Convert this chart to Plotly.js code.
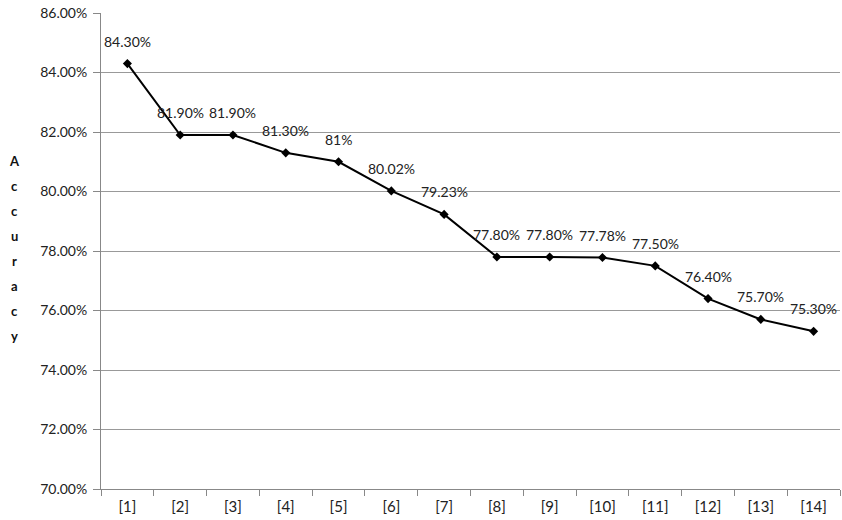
<!DOCTYPE html>
<html>
<head>
<meta charset="utf-8">
<script src="https://cdn.plot.ly/plotly-3.0.1.min.js"></script>
<style>html,body{margin:0;padding:0;background:#fff;}#chart{width:842px;height:520px;}</style>
</head>
<body>
<div id="chart"></div>
<script>
var categories = ["[1]","[2]","[3]","[4]","[5]","[6]","[7]","[8]","[9]","[10]","[11]","[12]","[13]","[14]"];
var accuracy = [84.30, 81.90, 81.90, 81.30, 81.00, 80.02, 79.23, 77.80, 77.80, 77.78, 77.50, 76.40, 75.70, 75.30];
var valueLabels = ["84.30%","81.90%","81.90%","81.30%","81%","80.02%","79.23%","77.80%","77.80%","77.78%","77.50%","76.40%","75.70%","75.30%"];
var yTicks = [70, 72, 74, 76, 78, 80, 82, 84, 86];
var yTickLabels = ["70.00%","72.00%","74.00%","76.00%","78.00%","80.00%","82.00%","84.00%","86.00%"];
var axisTitle = "Accuracy";

var fontFam = "Lato, 'Open Sans', sans-serif";

var trace = {
  x: categories,
  y: accuracy,
  type: 'scatter',
  mode: 'lines+markers',
  line: {color: '#000000', width: 2},
  marker: {symbol: 'diamond', size: 7, color: '#000000'},
  hoverinfo: 'none'
};

var annotations = categories.map(function(c, i) {
  return {x: c, y: accuracy[i], xref: 'x', yref: 'y', text: valueLabels[i],
    showarrow: false, yanchor: 'bottom', xanchor: 'center', yshift: 12,
    font: {family: fontFam, size: 14, color: '#222'}};
});
var letters = axisTitle.split('');
var H = 520, W = 842, mT = 13, mB = 31, mL = 101, mR = 2;
letters.forEach(function(ch, i) {
  var px = 14, py = 161 + i * 25;
  annotations.push({x: (px - mL) / (W - mL - mR), y: 1 - (py - mT) / (H - mT - mB),
    xref: 'paper', yref: 'paper', text: '<b>' + ch + '</b>',
    showarrow: false, xanchor: 'center', yanchor: 'middle',
    font: {family: fontFam, size: 13, color: '#111'}});
});

var layout = {
  width: W, height: H,
  margin: {l: mL, r: mR, t: mT, b: mB},
  paper_bgcolor: '#ffffff', plot_bgcolor: '#ffffff',
  showlegend: false,
  font: {family: fontFam, size: 14, color: '#222'},
  xaxis: {
    type: 'category',
    tickson: 'boundaries',
    ticks: 'outside', ticklen: 6, tickcolor: '#888',
    showline: true, linecolor: '#888', linewidth: 1,
    showgrid: false, zeroline: false,
    range: [-0.5, 13.5],
    ticklabelstandoff: 4,
    tickfont: {family: fontFam, size: 15, color: '#222'},
    automargin: false
  },
  yaxis: {
    range: [70, 86],
    tickvals: yTicks, ticktext: yTickLabels,
    ticks: 'outside', ticklen: 7, tickcolor: '#888',
    showline: true, linecolor: '#888', linewidth: 1,
    showgrid: true, gridcolor: '#999999', gridwidth: 1,
    zeroline: false,
    ticklabelstandoff: 3,
    tickfont: {family: fontFam, size: 14, color: '#222'},
    automargin: false
  },
  annotations: annotations
};

Plotly.newPlot('chart', [trace], layout, {displayModeBar: false, staticPlot: true});
</script>
</body>
</html>
